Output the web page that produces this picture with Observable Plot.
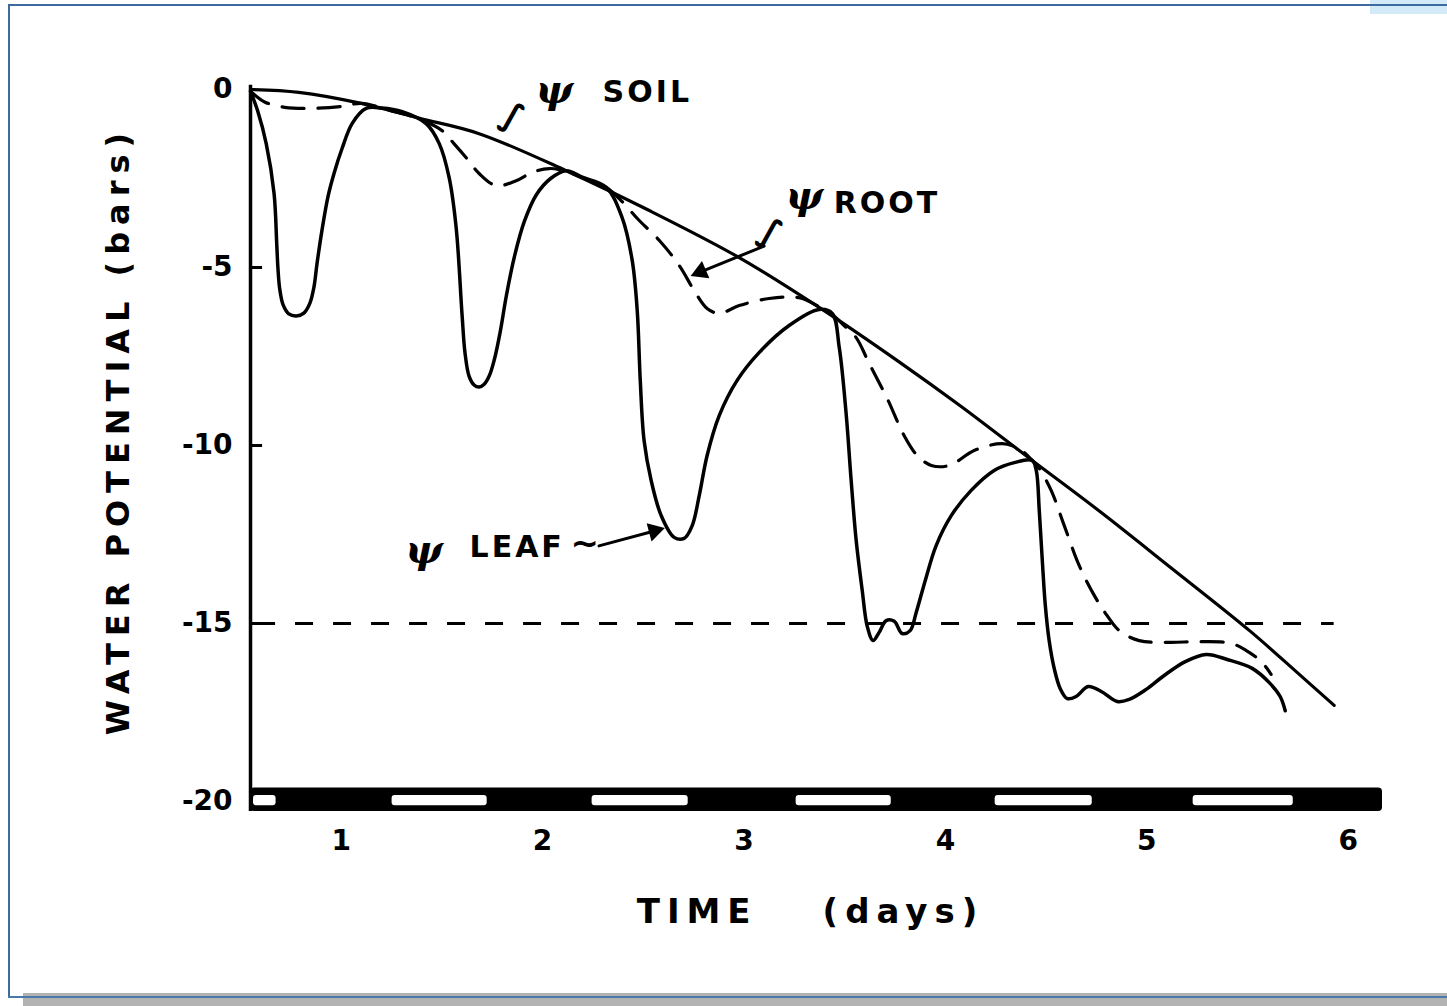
<!DOCTYPE html>
<html><head><meta charset="utf-8">
<script src="https://cdn.jsdelivr.net/npm/d3@7"></script>
<script src="https://cdn.jsdelivr.net/npm/@observablehq/plot@0.6"></script>
<style>
html,body{margin:0;padding:0;background:#fff;}
#page{position:relative;width:1447px;height:1006px;overflow:hidden;background:#fff;}
#chart{position:absolute;left:0;top:0;}
.fr{position:absolute;}
</style></head><body><div id="page">
<div class="fr" style="left:1370px;top:0;width:77px;height:14px;background:#d3ebf8"></div>
<div class="fr" style="left:8px;top:4px;width:1439px;height:2px;background:#3e6b9f"></div>
<div class="fr" style="left:8px;top:4px;width:2px;height:994px;background:#3e6b9f"></div>
<div class="fr" style="left:23px;top:993px;width:1424px;height:13px;background:#b3b3b3"></div>
<div class="fr" style="left:8px;top:996px;width:1439px;height:2px;background:#4a78ab"></div>
<div id="chart"></div></div>
<script>
// ---- data (time in days, water potential in bars) ----
const soilDay = [0.55, 0.79, 1.10, 1.39, 1.685, 2.117, 2.53, 2.976, 3.373, 3.77, 4.07, 4.431, 4.764, 5.11, 5.51, 5.757, 5.93];
const soilPsi = [0.0, -0.08, -0.39, -0.81, -1.24, -2.28, -3.40, -4.72, -6.12, -7.65, -8.87, -10.42, -11.84, -13.39, -15.2, -16.43, -17.3];

const leafDay = [0.55, 0.585, 0.628, 0.667, 0.68, 0.686, 0.695, 0.712, 0.74, 0.777, 0.815, 0.845, 0.865, 0.88, 0.905, 0.935, 0.965, 1.005, 1.055, 1.124, 1.20, 1.303,
  1.422, 1.487, 1.536, 1.571, 1.60, 1.615, 1.635, 1.66, 1.685, 1.71, 1.735, 1.76, 1.79, 1.82, 1.86, 1.91, 1.97, 2.04, 2.117, 2.20,
  2.316, 2.395, 2.445, 2.47, 2.485, 2.504, 2.539, 2.589, 2.653, 2.703, 2.743, 2.778, 2.817, 2.877, 2.966, 3.075, 3.224, 3.373,
  3.438, 3.473, 3.507, 3.532, 3.557, 3.587, 3.612, 3.641, 3.671, 3.706, 3.746, 3.785, 3.825, 3.855, 3.90, 3.954, 4.029, 4.128, 4.242, 4.342, 4.431,
  4.451, 4.466, 4.481, 4.496, 4.515, 4.54, 4.57, 4.605, 4.649, 4.709, 4.774, 4.853, 4.913, 4.997, 5.086, 5.191, 5.295, 5.399, 5.523, 5.608, 5.662, 5.687];
const leafPsi = [-0.05, -0.59, -1.52, -2.92, -4.3, -5.0, -5.6, -6.05, -6.3, -6.36, -6.28, -6.0, -5.55, -4.9, -3.95, -3.0, -2.35, -1.65, -0.95, -0.53, -0.52, -0.62,
  -0.96, -1.52, -2.47, -3.88, -6.3, -7.4, -8.05, -8.3, -8.36, -8.28, -8.05, -7.6, -6.8, -5.8, -4.7, -3.7, -2.95, -2.5, -2.28, -2.47,
  -2.75, -3.60, -4.80, -6.21, -8.17, -9.86, -10.98, -11.97, -12.58, -12.61, -12.25, -11.40, -10.28, -9.16, -8.17, -7.39, -6.63, -6.18,
  -6.29, -7.25, -9.10, -10.98, -12.67, -14.07, -15.08, -15.48, -15.25, -14.92, -14.94, -15.28, -15.20, -14.69, -13.79, -12.81, -11.97, -11.26, -10.70, -10.48, -10.42,
  -10.70, -11.83, -13.23, -14.49, -15.48, -16.26, -16.83, -17.11, -17.05, -16.77, -16.91, -17.19, -17.13, -16.85, -16.46, -16.07, -15.87, -16.01, -16.26, -16.66, -17.05, -17.45];

const rootDay = [0.55, 0.62, 0.72, 0.85, 1.00, 1.10, 1.25, 1.36, 1.42, 1.50, 1.56, 1.62, 1.685, 1.77, 1.869, 1.948, 2.033, 2.117, 2.20,
  2.316, 2.39, 2.48, 2.58, 2.678, 2.753, 2.817, 2.877, 2.976, 3.125, 3.274, 3.373,
  3.438, 3.497, 3.557, 3.622, 3.711, 3.795, 3.86, 3.93, 4.02, 4.143, 4.282, 4.367, 4.431,
  4.466, 4.525, 4.59, 4.664, 4.739, 4.803, 4.863, 4.962, 5.111, 5.26, 5.419, 5.508, 5.573, 5.617];
const rootPsi = [-0.05, -0.35, -0.50, -0.53, -0.48, -0.39, -0.60, -0.77, -0.90, -1.15, -1.52, -1.91, -2.36, -2.70, -2.56, -2.33, -2.22, -2.30, -2.48,
  -2.75, -3.12, -3.68, -4.24, -4.94, -5.65, -6.15, -6.29, -6.07, -5.87, -5.85, -6.10,
  -6.32, -6.63, -6.97, -7.70, -8.68, -9.72, -10.28, -10.56, -10.56, -10.14, -9.95, -10.10, -10.42,
  -10.65, -11.26, -12.25, -13.37, -14.21, -14.78, -15.20, -15.48, -15.53, -15.51, -15.56, -15.81, -16.10, -16.43];

const xTicks = [1, 2, 3, 4, 5, 6];
const yTicks = [0, -5, -10, -15, -20];
const threshold = -15;
const dayStart = [0.565, 1.253, 2.246, 3.259, 4.247, 5.230];
const dayEnd   = [0.677, 1.725, 2.723, 3.731, 4.729, 5.727];

const labelText = ["SOIL", "ROOT", "LEAF"];
const labelDay  = [2.52, 3.71, 1.874];
const labelPsi  = [-0.08, -3.20, -12.87];
const psiDay    = [2.058, 3.30, 1.412];
const psiPsi    = [-0.02, -3.00, -12.95];
// pointer arrows (ROOT, LEAF): tail -> head, in data units
const arrowX1 = [3.10, 2.28], arrowY1 = [-4.40, -12.82];
const arrowX2 = [2.785, 2.555], arrowY2 = [-5.12, -12.40];

// ---- tables built from arrays ----
const soil = soilDay.map((d, i) => ({day: d, psi: soilPsi[i]}));
const leaf = leafDay.map((d, i) => ({day: d, psi: leafPsi[i]}));
const root = rootDay.map((d, i) => ({day: d, psi: rootPsi[i]}));
const days = dayStart.map((d, i) => ({s: d, e: dayEnd[i]}));
const labels = labelText.map((t, i) => ({t, day: labelDay[i], psi: labelPsi[i]}));
const psis = psiDay.map((d, i) => ({day: d, psi: psiPsi[i]}));
const arrows = arrowX1.map((d, i) => ({x1: d, y1: arrowY1[i], x2: arrowX2[i], y2: arrowY2[i], rot: [247, 75][i]}));

const Y_TITLE = "WATER POTENTIAL (bars)";
const X_TITLE = "TIME\u2003\u2002(days)";

const FONT = "DejaVu Sans";
const chart = Plot.plot({
  width: 1447, height: 1006,
  marginLeft: 250, marginRight: 65, marginTop: 89, marginBottom: 205,
  x: {domain: [0.55, 6.17]},
  y: {domain: [-20, 0]},
  style: {background: "transparent", fontFamily: FONT, color: "#000", overflow: "visible"},
  marks: [
    Plot.axisY({ticks: yTicks, tickSize: 0, tickPadding: 18, fontSize: 28, fontWeight: "bold",
      tickFormat: d => d === 0 ? "0" : "-" + Math.abs(d), label: null}),
    Plot.axisX({ticks: xTicks, tickSize: 0, tickPadding: 29, fontSize: 28, fontWeight: "bold",
      tickFormat: d => String(d), label: null}),
    Plot.ruleY([threshold], {x1: 0.585, x2: 5.93, stroke: "#000", strokeWidth: 3, strokeDasharray: "18,20"}),
    Plot.line(soil, {x: "day", y: "psi", curve: "catmull-rom", stroke: "#000", strokeWidth: 3.2}),
    Plot.line(root, {x: "day", y: "psi", curve: "catmull-rom", stroke: "#000", strokeWidth: 3.2, strokeDasharray: "22,14"}),
    Plot.line(leaf, {x: "day", y: "psi", curve: "catmull-rom", stroke: "#000", strokeWidth: 3.5}),
    // day/night bar
    Plot.rect([0], {x1: () => 0.55, x2: () => 6.17, y1: () => -19.62, y2: () => -20.28, fill: "#000", rx: 4}),
    Plot.rect(days, {x1: "s", x2: "e", y1: () => -19.83, y2: () => -20.12, fill: "#fff", rx: 3}),
    // axis lines and inward ticks
    Plot.ruleX([0.55], {y1: 0.12, y2: -20.28, stroke: "#000", strokeWidth: 3.5}),
    Plot.ruleY(yTicks.filter(d => d < 0 && d > -20), {x1: 0.55, x2: 0.61, stroke: "#000", strokeWidth: 3}),
    // axis titles
    Plot.text([Y_TITLE], {text: d => d, frameAnchor: "left", textAnchor: "middle", rotate: -90, dx: -132, dy: -15,
      fontSize: 32, fontWeight: "bold"}),
    Plot.text([X_TITLE], {text: d => d, frameAnchor: "bottom", textAnchor: "middle", dx: -6, dy: 121,
      fontSize: 34, fontWeight: "bold"}),
    // annotations
    Plot.text(labels, {x: "day", y: "psi", text: "t", fontSize: 30, fontWeight: "bold"}),
    Plot.text(psis, {x: "day", y: "psi", text: () => "ψ", fontSize: 40, fontStyle: "italic", fontWeight: "bold", fontFamily: "DejaVu Serif"}),
    Plot.text([0, 1], {x: [1.85, 3.13], y: [-0.75, -4.0], text: () => "∫", fontSize: 34, fontWeight: "bold", rotate: 25}),
    Plot.text([0], {x: () => 2.21, y: () => -12.78, text: () => "~", fontSize: 34, fontWeight: "bold"}),
    Plot.arrow(arrows, {x1: "x1", y1: "y1", x2: "x2", y2: "y2", stroke: "#000", strokeWidth: 3, headLength: 0, bend: 0}),
    Plot.dot(arrows, {x: "x2", y: "y2", symbol: "triangle", r: 7, fill: "#000", stroke: "none", rotate: "rot"})
  ]
});
const txt = d3.select(chart).selectAll("text");
txt.filter(function () { return this.textContent === Y_TITLE; }).style("letter-spacing", "7px");
txt.filter(function () { return this.textContent === X_TITLE; }).style("letter-spacing", "7px");
txt.filter(function () { return labelText.includes(this.textContent); }).style("letter-spacing", "3px");
document.getElementById("chart").appendChild(chart);
</script></body></html>
